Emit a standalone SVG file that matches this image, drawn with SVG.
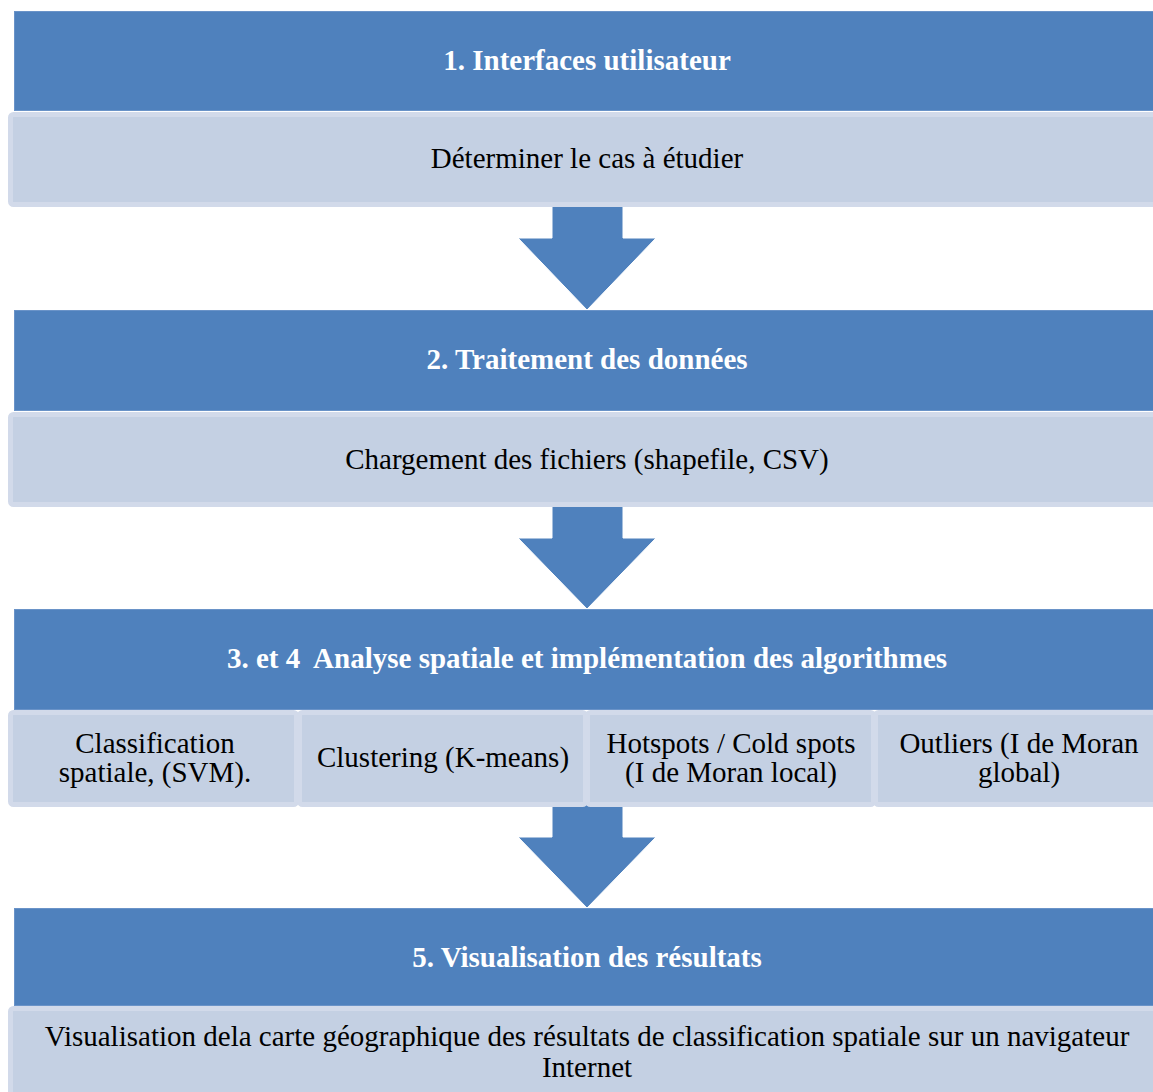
<svg xmlns="http://www.w3.org/2000/svg" width="1153" height="1092" viewBox="0 0 1153 1092">
  <style>
    .hdr { fill: #4f81bd; stroke: #6a93c8; stroke-width: 1; }
    .body { fill: #c4d0e3; stroke: #d2daea; stroke-width: 5; }
    .arrow { fill: #4f81bd; stroke: #ffffff; stroke-width: 1; stroke-linejoin: miter; }
    .t-h { font-family: "Liberation Serif", "Times New Roman", serif; font-size: 29px; font-weight: bold; fill: #ffffff; text-anchor: middle; }
    .t-b { font-family: "Liberation Serif", "Times New Roman", serif; font-size: 29px; fill: #000000; text-anchor: middle; }
  </style>
  <rect width="1153" height="1092" fill="#ffffff"/>

  <!-- down arrows between steps -->
  <g id="connectors">
    <polygon class="arrow" points="552,200 623,200 623,238 656,238 587,310 518,238 552,238"/>
    <polygon class="arrow" points="552,500 623,500 623,538 656,538 587,609 518,538 552,538"/>
    <polygon class="arrow" points="552,800 623,800 623,837 656,837 587,908 518,837 552,837"/>
  </g>

  <!-- step 1 -->
  <g id="step1">
    <rect class="hdr" x="14.5" y="11.5" width="1150" height="99"/>
    <text class="t-h" x="587" y="70">1. Interfaces utilisateur</text>
    <rect class="body" x="10.5" y="114.5" width="1160" height="90" rx="3"/>
    <text class="t-b" x="587" y="168">Déterminer le cas à étudier</text>
  </g>

  <!-- step 2 -->
  <g id="step2">
    <rect class="hdr" x="14.5" y="310.5" width="1150" height="100"/>
    <text class="t-h" x="587" y="369">2. Traitement des données</text>
    <rect class="body" x="10.5" y="414.5" width="1160" height="90" rx="3"/>
    <text class="t-b" x="587" y="469">Chargement des fichiers (shapefile, CSV)</text>
  </g>

  <!-- steps 3 and 4 -->
  <g id="step3">
    <rect class="hdr" x="14.5" y="609.5" width="1150" height="100"/>
    <text class="t-h" x="587" y="668">3. et 4&#160; Analyse spatiale et implémentation des algorithmes</text>
  </g>
  <g id="cell-svm">
    <rect class="body" x="10.5" y="712.5" width="286" height="92" rx="3"/>
    <text class="t-b" x="155" y="753">Classification</text>
    <text class="t-b" x="155" y="782">spatiale, (SVM).</text>
  </g>
  <g id="cell-kmeans">
    <rect class="body" x="299.5" y="712.5" width="286" height="92" rx="3"/>
    <text class="t-b" x="443" y="767">Clustering (K-means)</text>
  </g>
  <g id="cell-hotspots">
    <rect class="body" x="587.5" y="712.5" width="286" height="92" rx="3"/>
    <text class="t-b" x="731" y="753">Hotspots / Cold spots</text>
    <text class="t-b" x="731" y="782">(I de Moran local)</text>
  </g>
  <g id="cell-outliers">
    <rect class="body" x="875.5" y="712.5" width="290" height="92" rx="3"/>
    <text class="t-b" x="1019" y="753">Outliers (I de Moran</text>
    <text class="t-b" x="1019" y="782">global)</text>
  </g>

  <!-- step 5 -->
  <g id="step5">
    <rect class="hdr" x="14.5" y="908.5" width="1150" height="97"/>
    <text class="t-h" x="587" y="967">5. Visualisation des résultats</text>
    <rect class="body" x="10.5" y="1008.5" width="1160" height="95" rx="3"/>
    <text class="t-b" x="587" y="1046">Visualisation dela carte géographique des résultats de classification spatiale sur un navigateur</text>
    <text class="t-b" x="587" y="1077">Internet</text>
  </g>
</svg>
